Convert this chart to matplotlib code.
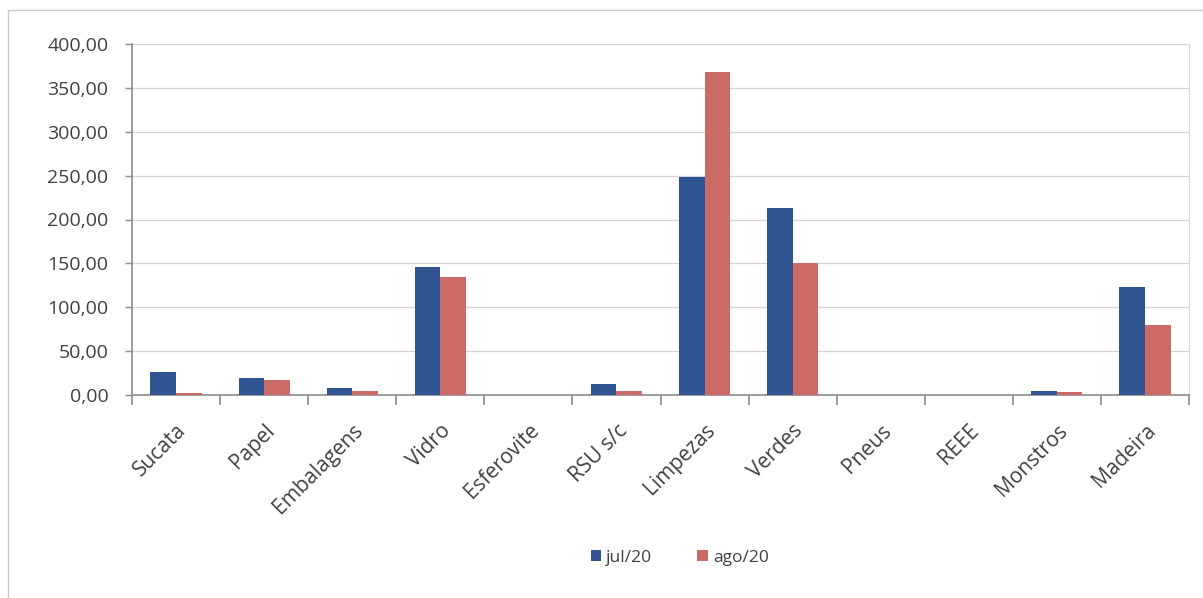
import matplotlib
matplotlib.use("Agg")
import matplotlib.pyplot as plt
from matplotlib.patches import Rectangle
from matplotlib.transforms import ScaledTranslation
import numpy as np

# toneladas recolhidas por tipo de resíduo
categorias = ["Sucata", "Papel", "Embalagens", "Vidro", "Esferovite", "RSU s/c",
              "Limpezas", "Verdes", "Pneus", "REEE", "Monstros", "Madeira"]
jul20 = [26.0, 19.0, 8.5, 146.0, 0.0, 13.0, 248.0, 213.0, 0.0, 0.0, 4.0, 123.0]
ago20 = [2.5, 17.5, 5.0, 134.0, 0.0, 4.0, 368.0, 150.0, 0.0, 0.0, 3.0, 80.0]
series_nomes = ["jul/20", "ago/20"]

cor_jul = "#2F5491"
cor_ago = "#CB6A67"
cor_texto = "#404040"
cor_eixo = "#8C8C8C"

plt.rcParams["font.family"] = ["Open Sans", "DejaVu Sans"]

fig = plt.figure(figsize=(12.03, 5.98), dpi=100)
ax = fig.add_axes([132 / 1203, 1 - 395 / 598, 1057 / 1203, 351 / 598])

# moldura do gráfico (continua para lá da margem direita e inferior)
fig.patches.append(Rectangle((8 / 1203, -0.05), 1.1, 1.05 - 10 / 598,
                             transform=fig.transFigure, fill=False,
                             edgecolor="#C8C8C8", linewidth=1.0))

x = np.arange(len(categorias))
w = 0.29
ax.bar(x - w / 2, jul20, width=w, color=cor_jul, label=series_nomes[0], zorder=3)
ax.bar(x + w / 2, ago20, width=w, color=cor_ago, label=series_nomes[1], zorder=3)

ax.set_xlim(-0.5, len(categorias) - 0.5)
ax.set_ylim(0, 400)
ax.set_yticks(np.arange(0, 401, 50))
ax.set_yticklabels([f"{v:.2f}".replace(".", ",") for v in np.arange(0, 401, 50)],
                   fontsize=14, color=cor_texto)
ax.yaxis.grid(True, color="#D4D4D4", linewidth=0.9, zorder=0)

# rótulos das categorias no centro, marcas de divisão entre categorias
ax.set_xticks(np.arange(-0.5, len(categorias), 1.0))
ax.set_xticklabels([])
ax.set_xticks(x, minor=True)
ax.set_xticklabels(categorias, minor=True, rotation=45, ha="right",
                   rotation_mode="anchor", fontsize=15, color=cor_texto)
desvio = ScaledTranslation(-3 / 100, 0, fig.dpi_scale_trans)
for lbl in ax.get_xticklabels(minor=True):
    lbl.set_transform(lbl.get_transform() + desvio)
ax.tick_params(axis="x", which="minor", length=0, pad=18)
ax.tick_params(axis="x", which="major", length=7, color=cor_eixo, width=1.2)
ax.tick_params(axis="y", length=5, color=cor_eixo, width=1.0, pad=12)

ax.spines["top"].set_visible(False)
ax.spines["right"].set_color("#D8D8D8")
ax.spines["right"].set_linewidth(0.9)
ax.spines["left"].set_color(cor_eixo)
ax.spines["bottom"].set_color(cor_eixo)
ax.spines["left"].set_linewidth(1.2)
ax.spines["bottom"].set_linewidth(1.2)

leg = fig.legend(loc="center", bbox_to_anchor=(0.565, 0.067), ncol=2, frameon=False,
                 fontsize=12.5, handlelength=0.6, handleheight=0.6,
                 handletextpad=0.3, columnspacing=2.6)
for t in leg.get_texts():
    t.set_color(cor_texto)

fig.savefig("out.png", dpi=100, facecolor="white")
